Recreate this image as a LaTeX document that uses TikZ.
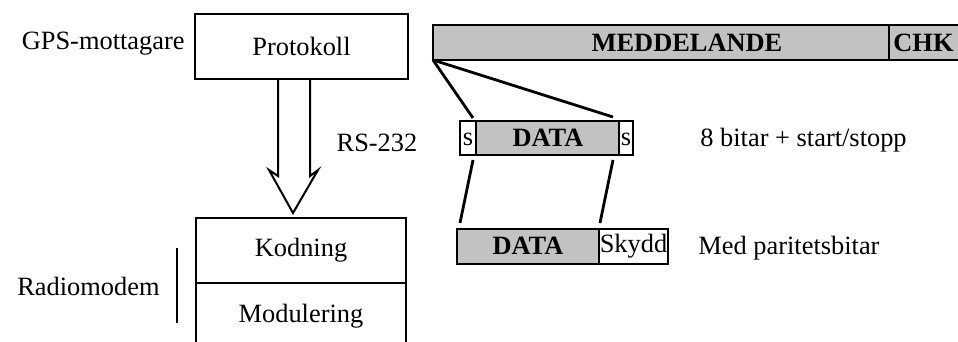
\documentclass[tikz,border=0pt]{standalone}
\usepackage{fontspec}
\setmainfont{Liberation Serif}
\usetikzlibrary{positioning}

\begin{document}
\begin{tikzpicture}[x=0.5pt, y=-0.5pt, font=\fontsize{13.2}{15}\selectfont,
    box/.style={draw, line width=1.1pt},
    shaded/.style={draw, line width=1.3pt, fill=black!24},
    field/.style={font=\fontsize{13.2}{15}\selectfont\bfseries},
    link/.style={line width=1.4pt}]
    \useasboundingbox (0,0) rectangle (958,342);
    % GPS receiver
    \coordinate (P1) at (195,14);
    \coordinate (P2) at (408,79);
    \draw[box] (P1) rectangle (P2);
    \node (prot) at (301.5,46.5) {Protokoll};
    \node[anchor=east, inner sep=0pt] (gps) at (185,44) {GPS-mottagare};
    % open arrow down to the modem
    \coordinate (S1) at (278,79);
    \coordinate (S2) at (278,176);
    \coordinate (W1) at (269,170);
    \coordinate (T)  at (293,213);
    \coordinate (W2) at (318,170);
    \coordinate (S3) at (310,176);
    \coordinate (S4) at (310,79);
    \draw[line width=1pt] (S1) -- (S2) -- (W1) -- (T) -- (W2) -- (S3) -- (S4);
    % radio modem
    \coordinate (R1) at (196,344);
    \coordinate (R2) at (196,218);
    \coordinate (R3) at (406,218);
    \coordinate (R4) at (406,344);
    \draw[box] (R1) -- (R2) -- (R3) -- (R4);
    \draw[box] (196,283) -- (406,283);
    \node (kod) at (301,250) {Kodning};
    \node (mod) at (301,316) {Modulering};
    \node[anchor=east, inner sep=0pt] (radio) at (160,286) {Radiomodem};
    \draw[line width=1pt] (177,248) -- (177,323);
    % frames
    \node (rs) at (377,143) {RS-232};
    \coordinate (M1) at (433,25);
    \coordinate (M2) at (962,60);
    \coordinate (M3) at (433,60);
    \draw[shaded] (M1) rectangle (M2);
    \draw[line width=1.3pt] (889,25) -- (889,60);
    \node[field] (msg) at (687,43) {MEDDELANDE};
    \node[field, anchor=west, inner sep=0pt] (chk) at (893,43) {CHK};
    % one byte with start and stop bits
    \fill[black!24] (476,121) rectangle (619,155);
    \draw[box, line width=1.3pt] (460,121) rectangle (633,155);
    \draw[line width=1.3pt] (476,121) -- (476,155);
    \draw[line width=1.3pt] (619,121) -- (619,155);
    \node (s1) at (468,139) {s};
    \node[field] (data1) at (548,138) {DATA};
    \node (s2) at (626,139) {s};
    \node[anchor=west, inner sep=0pt] (bits) at (700,140) {8 bitar + start/stopp};
    \coordinate (B1) at (473,118);
    \coordinate (B2) at (613,117);
    \draw[link] (M3) -- (B1);
    \draw[link] (M3) -- (B2);
    % coded block
    \coordinate (C1) at (473,160);
    \coordinate (C2) at (613,160);
    \coordinate (D1) at (460,223);
    \coordinate (D2) at (600,223);
    \draw[link] (C1) -- (D1);
    \draw[link] (C2) -- (D2);
    \fill[black!24] (457,229) rectangle (599,264);
    \draw[box, line width=1.3pt] (457,229) rectangle (668,264);
    \draw[line width=1.3pt] (599,229) -- (599,264);
    \node[field] (data2) at (528,246) {DATA};
    \node[inner sep=0pt] (skydd) at (633.5,246) {Skydd};
    \node[anchor=west, inner sep=0pt] (par) at (698,248) {Med paritetsbitar};
\end{tikzpicture}
\end{document}
